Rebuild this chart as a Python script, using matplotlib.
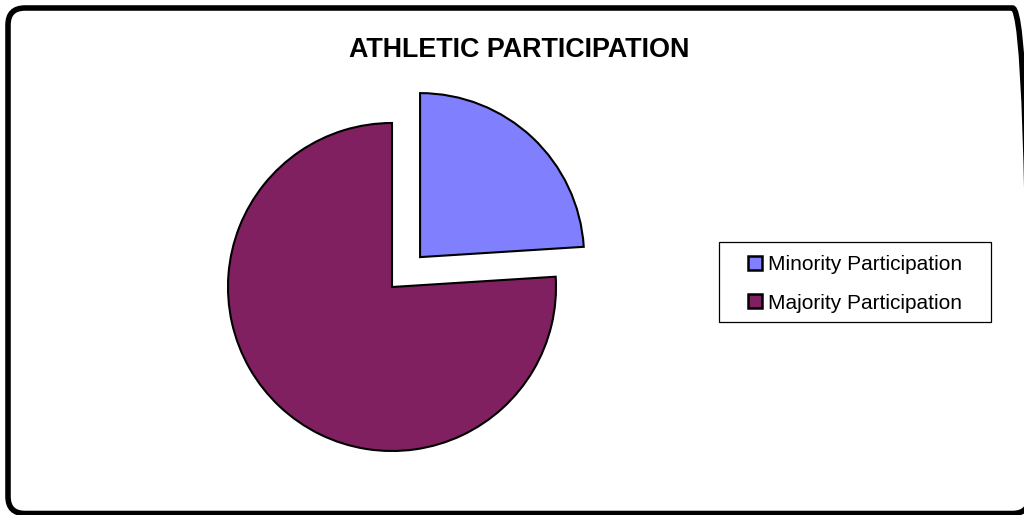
import matplotlib
matplotlib.use("Agg")
import matplotlib.pyplot as plt
from matplotlib.patches import FancyBboxPatch, Patch, Rectangle

title = "ATHLETIC PARTICIPATION"
labels = ["Minority Participation", "Majority Participation"]
values = [24, 76]
colors = ["#8080FF", "#802060"]
explode = [0.25, 0.0]

plt.rcParams["font.family"] = ["Liberation Sans", "DejaVu Sans"]

W, H, DPI = 1024, 515, 100
fig = plt.figure(figsize=(W / DPI, H / DPI), dpi=DPI)
fig.patch.set_facecolor("white")

# rounded outer frame, in pixel units (right side runs just past the edge)
px = fig.dpi_scale_trans
frame = FancyBboxPatch((8 / DPI, 1.5 / DPI), 1021.5 / DPI, 505.5 / DPI,
                       boxstyle="round,pad=0,rounding_size=0.17",
                       transform=px, facecolor="none", edgecolor="black",
                       linewidth=4.0, zorder=0)
fig.patches.append(frame)

# pie axes: radius 1 -> 164 px, centre at (392, 287) from top-left
r = 164
cx, cy = 392, 287
side = 3 * r
ax = fig.add_axes([(cx - side / 2) / W, (H - cy - side / 2) / H, side / W, side / H])

ax.pie(values, explode=explode, colors=colors, startangle=90, counterclock=False,
       radius=1.0, wedgeprops=dict(edgecolor="black", linewidth=1.5))
ax.set_xlim(-1.5, 1.5)
ax.set_ylim(-1.5, 1.5)
ax.set_aspect("equal")
ax.axis("off")

fig.text(519 / W, 1 - 50 / H, title, ha="center", va="center",
         fontsize=19.4, fontweight="bold")

# legend box
box = Rectangle((719 / DPI, (H - 322) / DPI), 272 / DPI, 80 / DPI, transform=px,
                facecolor="white", edgecolor="black", linewidth=0.9, zorder=1)
fig.patches.append(box)

handles = [Patch(facecolor=c, edgecolor="black", linewidth=1.8) for c in colors]
leg = fig.legend(handles, labels, loc="center left",
                 bbox_to_anchor=(748 / W, 1 - 284 / H), frameon=False,
                 fontsize=15, handlelength=0.68, handleheight=0.68, handletextpad=0.3,
                 borderpad=0, labelspacing=0.92, borderaxespad=0)
leg.set_zorder(2)

fig.savefig("out.png", dpi=DPI, facecolor="white")
